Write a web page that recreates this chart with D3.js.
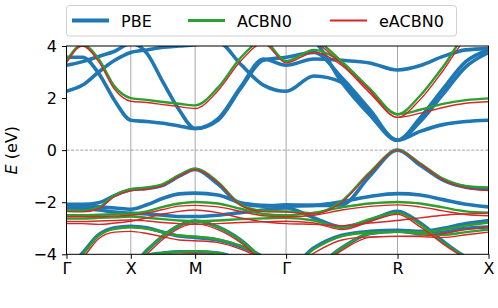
<!DOCTYPE html>
<html>
<head>
<meta charset="utf-8">
<script src="https://cdn.jsdelivr.net/npm/d3@7"></script>
<style>
  body { margin: 0; background: #fff; }
  text { font-family: "DejaVu Sans", sans-serif; }
</style>
</head>
<body>
<div id="chart"></div>
<script>
// high-symmetry path of the cubic cell
const kLabels = ["Γ", "X", "M", "Γ", "R", "X"];
const segLengths = [0.5, 0.5, 0.7071, 0.8660, 0.7071];
const samplesPerSeg = 4;
const yTicks = [-4, -2, 0, 2, 4];

// energies (eV) at the sampled k-points: 5 per segment, shared ends -> 21 values
// PBE
const pbeBands = [
  [2.26, 2.5, 3.0, 3.45, 3.75,  3.85, 3.95, 4.0, 4.05,  4.15, 3.3, 2.5, 2.26,  2.85, 2.6, 1.4, 0.38,  0.72, 0.98, 1.1, 1.15],
  [3.57, 3.57, 2.95, 1.9, 1.15,  1.1, 1.03, 0.93, 0.83,  1.15, 2.37, 3.45, 3.57,  3.75, 2.78, 1.56, 0.38,  1.25, 2.35, 3.4, 3.85],
  [3.26, 3.4, 3.6, 3.8, 4.1,  3.72, 2.61, 1.55, 0.83,  1.2, 2.42, 3.5, 3.26,  3.5, 3.45, 3.35, 3.08,  3.25, 3.6, 3.85, 3.9],
  [4.6, 4.6, 4.6, 4.6, 4.6,  4.6, 4.6, 4.6, 4.6,  4.6, 4.6, 4.6, 4.6,  4.2, 2.6, 1.36, 0.38,  1.1, 2.15, 3.2, 3.75],
  [-2.08, -2.08, -2.02, -1.74, -1.52,  -1.47, -1.35, -1.0, -0.74,  -1.3, -2.05, -2.15, -2.1,  -2.12, -2.1, -1.0, 0.0,  -0.58, -1.15, -1.42, -1.5],
  [-2.15, -2.15, -2.18, -2.22, -2.27,  -2.1, -1.85, -1.68, -1.65,  -1.72, -2.02, -2.12, -2.15,  -2.12, -1.98, -1.78, -1.67,  -1.72, -1.9, -2.08, -2.18],
  [-2.22, -2.24, -2.3, -2.38, -2.42,  -2.45, -2.5, -2.55, -2.55,  -2.5, -2.4, -2.3, -2.22,  -2.6, -2.95, -2.7, -2.35,  -2.8, -3.5, -4.1, -4.4],
  [-4.6, -3.95, -3.25, -2.98, -2.92,  -2.98, -3.15, -3.3, -3.35,  -3.45, -3.7, -4.1, -4.6,  -3.75, -3.27, -3.12, -3.08,  -3.12, -3.0, -2.82, -2.7],
  [-4.7, -4.7, -4.7, -4.7, -4.5,  -3.85, -3.3, -2.9, -2.72,  -2.95, -3.45, -4.2, -4.7,  -4.5, -3.75, -3.2, -3.1,  -3.2, -3.15, -3.0, -2.95],
  [-4.7, -4.7, -4.7, -4.5, -4.3,  -4.05, -3.95, -3.9, -3.9,  -3.95, -4.2, -4.6, -4.7,  -4.7, -4.7, -4.7, -4.7,  -4.7, -4.7, -4.7, -4.7]
];
// ACBN0
const acbn0Bands = [
  [3.42, 4.05, 3.5, 2.44, 2.0,  1.93, 1.85, 1.78, 1.72,  2.4, 3.55, 4.2, 3.42,  3.85, 3.37, 2.34, 1.38,  1.55, 1.78, 1.92, 1.99],
  [4.6, 4.6, 4.6, 4.6, 4.6,  4.6, 4.6, 4.6, 4.6,  4.6, 4.6, 4.6, 4.6,  4.3, 3.4, 2.36, 1.38,  2.1, 3.2, 4.4, 4.7],
  [-2.33, -2.33, -2.2, -1.73, -1.5,  -1.43, -1.3, -0.96, -0.71,  -1.22, -2.1, -2.33, -2.35,  -2.42, -1.95, -0.85, 0.0,  -0.51, -1.09, -1.37, -1.43],
  [-2.5, -2.5, -2.48, -2.46, -2.44,  -2.35, -2.18, -2.05, -1.99,  -2.05, -2.25, -2.45, -2.5,  -2.4, -2.2, -2.05, -1.99,  -2.05, -2.2, -2.35, -2.4],
  [-2.63, -2.63, -2.6, -2.58, -2.55,  -2.6, -2.65, -2.7, -2.72,  -2.7, -2.65, -2.62, -2.6,  -2.7, -2.98, -2.65, -2.4,  -2.85, -3.55, -4.1, -4.4],
  [-4.6, -4.0, -3.28, -3.02, -2.96,  -3.02, -3.15, -3.28, -3.32,  -3.43, -3.68, -4.1, -4.6,  -3.8, -3.3, -3.16, -3.14,  -3.15, -3.05, -2.9, -2.78],
  [-4.7, -4.7, -4.7, -4.7, -4.5,  -3.85, -3.3, -2.9, -2.72,  -2.95, -3.45, -4.2, -4.7,  -4.5, -3.75, -3.2, -3.14,  -3.2, -3.25, -3.15, -3.05],
  [-4.7, -4.7, -4.7, -4.5, -4.3,  -4.05, -3.95, -3.9, -3.88,  -3.95, -4.2, -4.6, -4.7,  -4.7, -4.7, -4.7, -4.7,  -4.7, -4.7, -4.7, -4.7]
];
// eACBN0
const eacbn0Bands = [
  [3.35, 4.0, 3.4, 2.33, 1.88,  1.83, 1.75, 1.67, 1.6,  2.28, 3.42, 4.1, 3.35,  3.75, 3.25, 2.2, 1.26,  1.42, 1.64, 1.8, 1.86],
  [4.6, 4.6, 4.6, 4.6, 4.6,  4.6, 4.6, 4.6, 4.6,  4.6, 4.6, 4.6, 4.6,  4.2, 3.3, 2.28, 1.26,  1.95, 3.05, 4.25, 4.6],
  [-2.36, -2.37, -2.25, -1.78, -1.56,  -1.5, -1.36, -1.0, -0.75,  -1.25, -2.12, -2.36, -2.38,  -2.45, -2.0, -0.9, 0.0,  -0.53, -1.14, -1.45, -1.55],
  [-2.56, -2.56, -2.55, -2.53, -2.5,  -2.42, -2.28, -2.15, -2.12,  -2.18, -2.35, -2.52, -2.56,  -2.5, -2.3, -2.16, -2.1,  -2.18, -2.33, -2.47, -2.52],
  [-2.74, -2.74, -2.72, -2.7, -2.68,  -2.72, -2.78, -2.82, -2.85,  -2.82, -2.78, -2.75, -2.73,  -2.8, -3.05, -2.75, -2.46,  -2.95, -3.6, -4.15, -4.45],
  [-2.82, -2.82, -2.85, -2.8, -2.73,  -2.6, -2.45, -2.35, -2.3,  -2.4, -2.6, -2.75, -2.82,  -2.85, -2.9, -2.8, -2.7,  -2.6, -2.5, -2.45, -2.42],
  [-4.7, -4.15, -3.4, -3.15, -3.12,  -3.2, -3.33, -3.45, -3.48,  -3.55, -3.8, -4.2, -4.7,  -3.95, -3.45, -3.33, -3.31,  -3.3, -3.2, -3.05, -2.95],
  [-4.8, -4.8, -4.8, -4.8, -4.6,  -4.0, -3.42, -3.0, -2.82,  -3.05, -3.55, -4.3, -4.8,  -4.6, -3.85, -3.35, -3.31,  -3.32, -3.35, -3.25, -3.15],
  [-4.8, -4.8, -4.8, -4.6, -4.4,  -4.15, -4.05, -4.0, -3.98,  -4.05, -4.3, -4.7, -4.8,  -4.8, -4.8, -4.8, -4.8,  -4.8, -4.8, -4.8, -4.8]
];

const seriesNames = ["PBE", "ACBN0", "eACBN0"];
const seriesColors = ["#1f77b4", "#2ca02c", "#d62728"];
const seriesWidths = [3.6, 2.4, 1.4];

const width = 498, height = 308;
const margin = {top: 46, left: 66.5, right: 9.5, bottom: 53.7};

const svg = d3.select("#chart")
    .append("svg")
    .attr("width", width)
    .attr("height", height);

// k positions of nodes and sample points
const kNodes = [0];
segLengths.forEach(l => kNodes.push(kNodes[kNodes.length - 1] + l));
const kGrid = [];
segLengths.forEach((l, s) => {
    for (let j = 0; j < samplesPerSeg; j++) kGrid.push(kNodes[s] + j * l / samplesPerSeg);
});
kGrid.push(kNodes[kNodes.length - 1]);

const xScale = d3.scaleLinear()
    .domain([0, kNodes[kNodes.length - 1]])
    .range([margin.left, width - margin.right]);

const yScale = d3.scaleLinear()
    .domain([-4, 4])
    .range([height - margin.bottom, margin.top]);

svg.append("clipPath").attr("id", "plotclip")
  .append("rect")
    .attr("x", margin.left).attr("y", margin.top)
    .attr("width", width - margin.left - margin.right)
    .attr("height", height - margin.top - margin.bottom);

// vertical lines at the high-symmetry points
svg.selectAll(".kline")
    .data(kNodes.slice(1, -1))
    .enter()
    .append("line")
      .attr("x1", d => xScale(d)).attr("x2", d => xScale(d))
      .attr("y1", margin.top).attr("y2", height - margin.bottom)
      .attr("stroke", "#a8a8a8")
      .attr("stroke-width", 1);

// Fermi level
svg.append("line")
    .attr("x1", margin.left).attr("x2", width - margin.right)
    .attr("y1", yScale(0)).attr("y2", yScale(0))
    .attr("stroke", "#999")
    .attr("stroke-width", 0.9)
    .attr("stroke-dasharray", "3,1.6");

const line = d3.line()
    .x((d, i) => xScale(kGrid[i]))
    .y(d => yScale(d))
    .curve(d3.curveMonotoneX);

const plot = svg.append("g").attr("clip-path", "url(#plotclip)");
[pbeBands, acbn0Bands, eacbn0Bands].forEach((bands, s) => {
    plot.append("g")
      .selectAll("path")
      .data(bands)
      .enter()
      .append("path")
        .attr("d", line)
        .attr("fill", "none")
        .attr("stroke", seriesColors[s])
        .attr("stroke-width", seriesWidths[s])
        .attr("stroke-linejoin", "round");
});

// frame
svg.append("rect")
    .attr("x", margin.left).attr("y", margin.top)
    .attr("width", width - margin.left - margin.right)
    .attr("height", height - margin.top - margin.bottom)
    .attr("fill", "none")
    .attr("stroke", "#000")
    .attr("stroke-width", 1);

// axes
const yAxis = svg.append("g")
    .attr("transform", `translate(${margin.left},0)`)
    .call(d3.axisLeft(yScale).tickValues(yTicks).tickSize(4.5).tickPadding(5)
        .tickFormat(d => d < 0 ? "\u2212" + Math.abs(d) : d));
yAxis.select(".domain").remove();
yAxis.selectAll("text").attr("font-size", 16).attr("font-family", "DejaVu Sans").attr("fill", "#000");

const xAxis = svg.append("g")
    .attr("transform", `translate(0,${height - margin.bottom})`)
    .call(d3.axisBottom(xScale).tickValues(kNodes).tickSize(4.5).tickPadding(3.5)
        .tickFormat((d, i) => kLabels[i]));
xAxis.select(".domain").remove();
xAxis.selectAll("text").attr("font-size", 16).attr("font-family", "DejaVu Sans").attr("fill", "#000");

// y label
const yLabel = svg.append("text")
    .attr("transform", "rotate(-90)")
    .attr("x", -(margin.top + height - margin.bottom) / 2)
    .attr("y", 17)
    .attr("text-anchor", "middle")
    .attr("font-size", 16);
yLabel.append("tspan").attr("font-style", "italic").text("E");
yLabel.append("tspan").text(" (eV)");

// legend
const legend = svg.append("g");
legend.append("rect")
    .attr("x", 66.5).attr("y", 5.5)
    .attr("width", 390).attr("height", 30.5)
    .attr("rx", 3)
    .attr("fill", "#fff").attr("fill-opacity", 0.8)
    .attr("stroke", "#d0d0d0");
const legendX = [72, 188, 330];
seriesNames.forEach((name, i) => {
    legend.append("line")
        .attr("x1", legendX[i]).attr("x2", legendX[i] + 37)
        .attr("y1", 20.5).attr("y2", 20.5)
        .attr("stroke", seriesColors[i])
        .attr("stroke-width", seriesWidths[i] + 0.4);
    legend.append("text")
        .attr("x", legendX[i] + 49)
        .attr("y", 26.5)
        .attr("font-size", 16)
        .text(name);
});
</script>
</body>
</html>
